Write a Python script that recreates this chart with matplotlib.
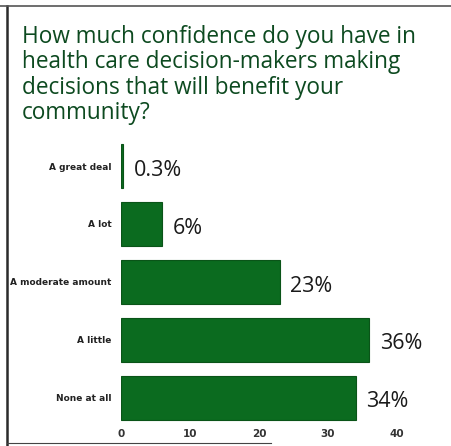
import matplotlib.pyplot as plt
from matplotlib.lines import Line2D

categories = ['A great deal', 'A lot', 'A moderate amount', 'A little', 'None at all']
values = [0.3, 6, 23, 36, 34]
value_labels = ['0.3%', '6%', '23%', '36%', '34%']
xticks = [0, 10, 20, 30, 40]

W, H = 451, 446
fig = plt.figure(figsize=(W / 100, H / 100), dpi=100)

# frame around the card
fig.add_artist(Line2D([7 / W, 7 / W], [0, 1 - 6 / H], color='#2b2b2b', lw=1.8))
fig.add_artist(Line2D([0, 1], [1 - 6 / H, 1 - 6 / H], color='#555555', lw=1.2))
fig.add_artist(Line2D([7 / W, 0.6], [3 / H, 3 / H], color='#444444', lw=0.8))

fig.text(22 / W, 1 - 25 / H,
         'How much confidence do you have in\nhealth care decision-makers making\n'
         'decisions that will benefit your\ncommunity?',
         ha='left', va='top', fontsize=16.3, color='#0d4a20',
         family='Open Sans', linespacing=1.08)

ax = fig.add_axes([121 / W, 1 - 422 / H, (397 - 121) / W, (422 - 140) / H])
green = '#0b6b1f'
bars = ax.barh(range(len(categories)), values, height=0.76, color=green,
               edgecolor='#0a5418', linewidth=0.8)
ax.set_xlim(0, 40)
ax.set_ylim(4.42, -0.45)
ax.set_yticks(range(len(categories)))
ax.set_yticklabels(categories, fontsize=6.5, color='#222222', fontweight='semibold')
ax.set_xticks(xticks)
ax.set_xticklabels([str(t) for t in xticks], fontsize=7.5, color='#333333',
                   fontweight='bold')
ax.tick_params(length=0, pad=5)
ax.tick_params(axis='y', pad=7)
for s in ax.spines.values():
    s.set_visible(False)

for v, lab, i in zip(values, value_labels, range(len(values))):
    ax.annotate(lab, (v, i), xytext=(7.5, -3), textcoords='offset points',
                ha='left', va='center', fontsize=15.5, color='#1a1a1a',
                family='Open Sans')

fig.savefig('out.png', dpi=100)
